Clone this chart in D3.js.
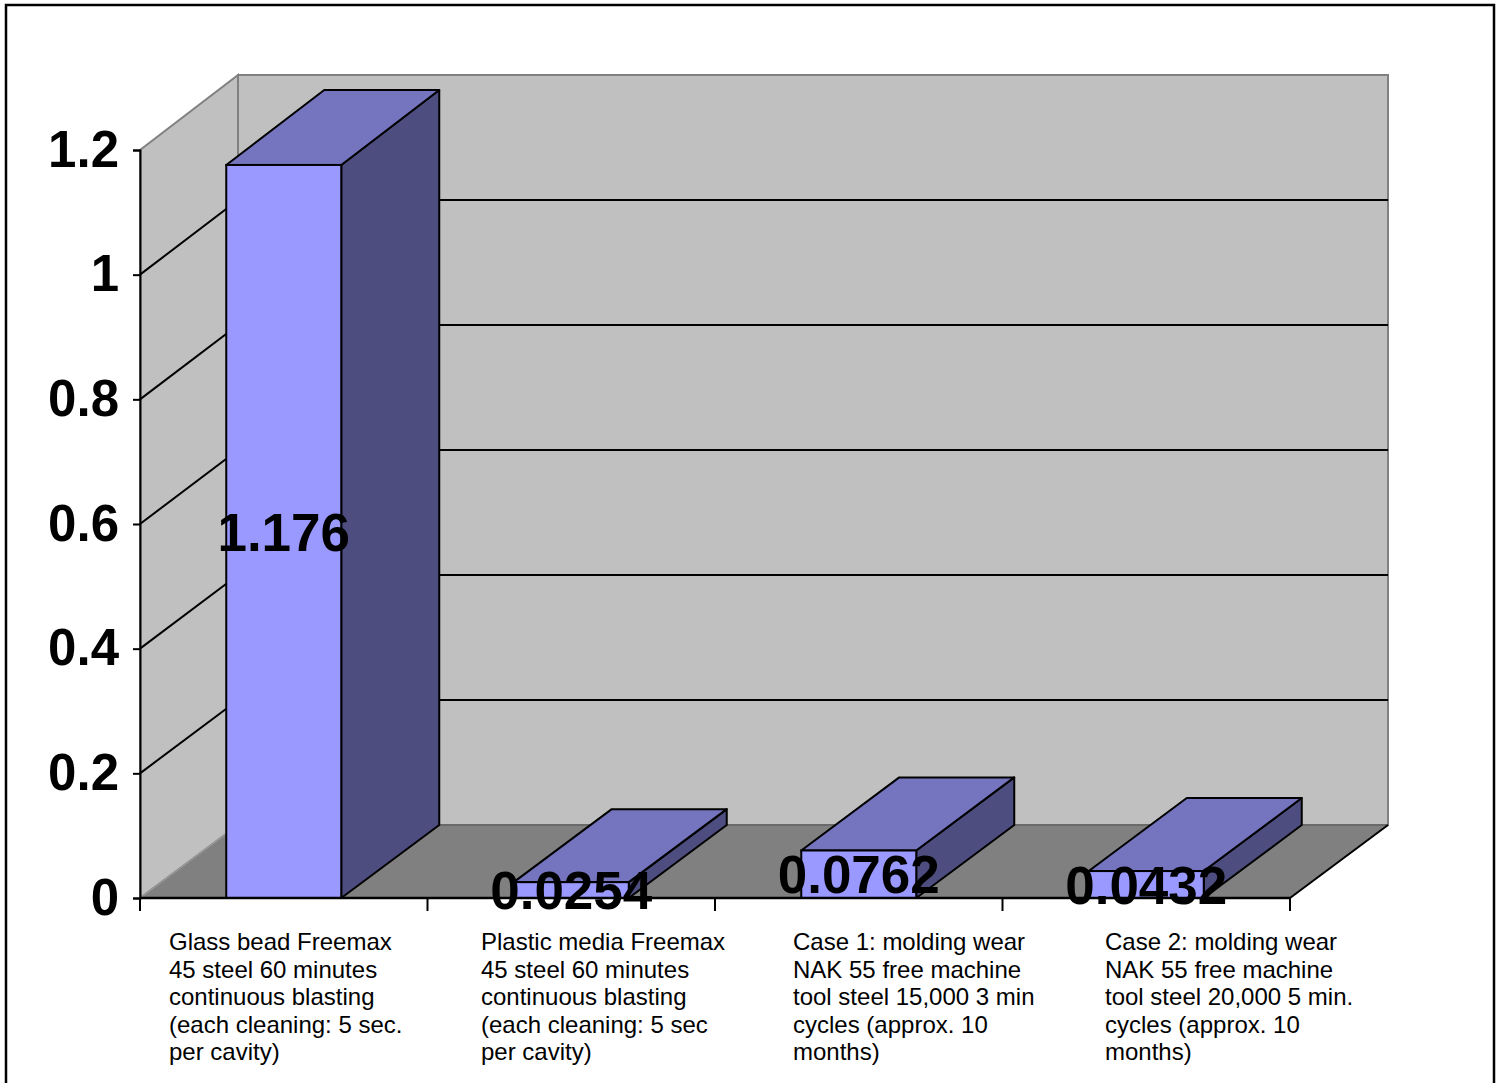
<!DOCTYPE html>
<html><head><meta charset="utf-8">
<script src="https://cdn.jsdelivr.net/npm/d3@7"></script>
<style>body{margin:0;background:#fff}svg{display:block}text{font-family:"Liberation Sans",Arial,sans-serif}</style>
</head><body><svg id="c" width="1501" height="1083"></svg>
<script>
const categories = [
  "Glass bead Freemax\n45 steel 60 minutes\ncontinuous blasting\n(each cleaning: 5 sec.\nper cavity)",
  "Plastic media Freemax\n45 steel 60 minutes\ncontinuous blasting\n(each cleaning: 5 sec\nper cavity)",
  "Case 1: molding wear\nNAK 55 free machine\ntool steel 15,000 3 min\ncycles (approx. 10\nmonths)",
  "Case 2: molding wear\nNAK 55 free machine\ntool steel 20,000 5 min.\ncycles (approx. 10\nmonths)"
];
const values = [1.176, 0.0254, 0.0762, 0.0432];
const valueLabels = ["1.176", "0.0254", "0.0762", "0.0432"];
const tickValues = [0, 0.2, 0.4, 0.6, 0.8, 1, 1.2];
const tickLabels = ["0", "0.2", "0.4", "0.6", "0.8", "1", "1.2"];

const svg = d3.select("#c");
const DX = 98;
const x = d3.scaleBand().domain(categories).range([140, 1290]);
const yF = d3.scaleLinear().domain([0, 1.2]).range([898, 150]);
const yB = d3.scaleLinear().domain([0, 1.2]).range([825, 75]);
const xL = 140, xR = 1290;
const pts = a => a.map(p => p.join(",")).join(" ");

// outer border
svg.append("rect").attr("x", 6).attr("y", 5).attr("width", 1488).attr("height", 1100)
  .attr("fill", "none").attr("stroke", "#000").attr("stroke-width", 2.5);

const wallGray = "#c0c0c0", floorGray = "#808080", edge = "#808080";
// back wall
svg.append("polygon").attr("points", pts([[xL+DX, yB(1.2)], [xR+DX, yB(1.2)], [xR+DX, yB(0)], [xL+DX, yB(0)]]))
  .attr("fill", wallGray).attr("stroke", edge).attr("stroke-width", 2);
// left wall
svg.append("polygon").attr("points", pts([[xL, yF(1.2)], [xL+DX, yB(1.2)], [xL+DX, yB(0)], [xL, yF(0)]]))
  .attr("fill", wallGray).attr("stroke", edge).attr("stroke-width", 2);
// floor
svg.append("polygon").attr("points", pts([[xL, yF(0)], [xL+DX, yB(0)], [xR+DX, yB(0)], [xR, yF(0)]]))
  .attr("fill", floorGray).attr("stroke", "none");
svg.append("line").attr("x1", xL+DX).attr("y1", yB(0)).attr("x2", xR+DX).attr("y2", yB(0))
  .attr("stroke", "#6a6a6a").attr("stroke-width", 2);
svg.append("line").attr("x1", xR).attr("y1", yF(0)).attr("x2", xR+DX).attr("y2", yB(0))
  .attr("stroke", "#000").attr("stroke-width", 2);
svg.append("line").attr("x1", xL).attr("y1", yF(0)).attr("x2", xL+DX).attr("y2", yB(0))
  .attr("stroke", "#999").attr("stroke-width", 1.5);

// gridlines
const grid = tickValues.filter(v => v > 0 && v < 1.2);
svg.append("g").selectAll("line.gb").data(grid).join("line")
  .attr("x1", xL+DX).attr("x2", xR+DX).attr("y1", d => yB(d)).attr("y2", d => yB(d))
  .attr("stroke", "#000").attr("stroke-width", 2);
svg.append("g").selectAll("line.gl").data(grid).join("line")
  .attr("x1", xL).attr("x2", xL+DX).attr("y1", d => yF(d)).attr("y2", d => yB(d))
  .attr("stroke", "#000").attr("stroke-width", 2);

// bars
const bw = x.bandwidth() * 0.4;
const bx = c => x(c) + x.bandwidth() * 0.3;
const bars = svg.append("g").selectAll("g").data(categories.map((c, i) => ({c, v: values[i], l: valueLabels[i]}))).join("g");
bars.append("polygon").attr("points", d => pts([[bx(d.c)+bw, yF(d.v)], [bx(d.c)+bw+DX, yB(d.v)], [bx(d.c)+bw+DX, yB(0)], [bx(d.c)+bw, yF(0)]]))
  .attr("fill", "#4d4d80").attr("stroke", "#000").attr("stroke-width", 2).attr("stroke-linejoin", "round");
bars.append("polygon").attr("points", d => pts([[bx(d.c), yF(d.v)], [bx(d.c)+DX, yB(d.v)], [bx(d.c)+bw+DX, yB(d.v)], [bx(d.c)+bw, yF(d.v)]]))
  .attr("fill", "#7474bf").attr("stroke", "#000").attr("stroke-width", 2).attr("stroke-linejoin", "round");
bars.append("rect").attr("x", d => bx(d.c)).attr("y", d => yF(d.v)).attr("width", bw).attr("height", d => yF(0) - yF(d.v))
  .attr("fill", "#9999ff").attr("stroke", "#000").attr("stroke-width", 2);

// axes
const yAxis = d3.axisLeft(yF).tickValues(tickValues).tickSize(7).tickPadding(14)
  .tickFormat((d, i) => tickLabels[i]);
const gy = svg.append("g").attr("transform", `translate(${xL},0)`).call(yAxis);
gy.select(".domain").attr("stroke", "#000").attr("stroke-width", 2);
gy.selectAll(".tick line").attr("stroke", "#000").attr("stroke-width", 2);
gy.selectAll(".tick text").attr("font-size", 51).attr("font-weight", "bold").attr("fill", "#000")
  .attr("font-family", "Liberation Sans, Arial, sans-serif");

svg.append("line").attr("x1", xL).attr("x2", xR).attr("y1", yF(0)).attr("y2", yF(0))
  .attr("stroke", "#000").attr("stroke-width", 2.5);
const xticks = categories.map(c => x(c)).concat([xR]);
svg.append("g").selectAll("line").data(xticks).join("line")
  .attr("x1", d => d).attr("x2", d => d).attr("y1", yF(0)).attr("y2", yF(0) + 13)
  .attr("stroke", "#000").attr("stroke-width", 2);

// data labels
bars.append("text").attr("x", d => bx(d.c) + bw / 2).attr("y", d => (yF(d.v) + yF(0)) / 2)
  .attr("dy", "0.36em").attr("text-anchor", "middle").attr("font-size", 53).attr("font-weight", "bold")
  .attr("fill", "#000").text(d => d.l);

// category labels
const xLab = d3.scalePoint().domain(categories).range([169, 169 + 3 * 312]);
const cl = svg.append("g").selectAll("text").data(categories).join("text")
  .attr("x", d => xLab(d)).attr("y", 950).attr("font-size", 24).attr("fill", "#000");
cl.selectAll("tspan").data(d => d.split("\n").map(t => ({t, x: xLab(d)}))).join("tspan")
  .attr("x", d => d.x).attr("dy", (d, i) => i ? 27.5 : 0).text(d => d.t);
</script></body></html>
